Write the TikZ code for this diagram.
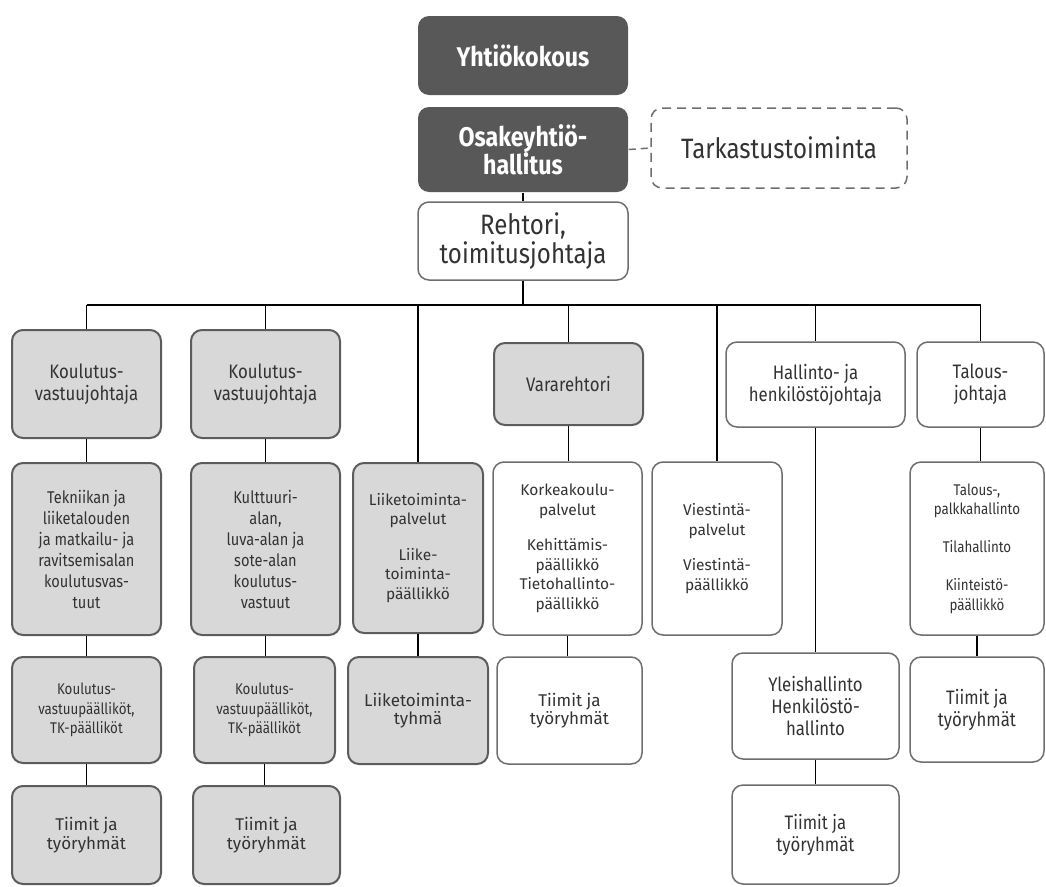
\documentclass[tikz,border=0pt]{standalone}
\usepackage{fontspec}
\setmainfont{Fira Sans}[FakeStretch=0.86]
\newfontfamily\widefont{Fira Sans}
\definecolor{darkfill}{HTML}{585858}
\definecolor{grayfill}{HTML}{D8D8D8}
\definecolor{grayline}{HTML}{5C5C5C}
\definecolor{whiteline}{HTML}{6E6E6E}
\definecolor{txt}{HTML}{333333}
\tikzset{
  box/.style={rounded corners=11pt, inner sep=0pt, align=center, text=txt, line width=1.5pt},
  darkbox/.style={box, fill=darkfill, text=white, font=\bfseries\fontsize{27pt}{28pt}\selectfont},
  graybox/.style={box, draw=grayline, fill=grayfill, line width=2pt},
  whitebox/.style={box, draw=whiteline, fill=white, line width=1.5pt},
  dashbox/.style={box, draw=whiteline, line width=1.5pt, dash pattern=on 9pt off 6pt},
  conn/.style={line width=1.7pt, black},
  fbig/.style={font=\fontsize{28pt}{29pt}\selectfont},
  fhead/.style={font=\fontsize{19.5pt}{22pt}\selectfont},
  fmid/.style={font=\fontsize{17pt}{21pt}\selectfont},
  fsmall/.style={font=\fontsize{15.5pt}{19.5pt}\selectfont},
  fwide/.style={font=\widefont\fontsize{15.5pt}{19.5pt}\selectfont},
  fwideb/.style={font=\widefont\fontsize{17pt}{18.5pt}\selectfont},
  sz/.style 2 args={minimum width=#1pt, minimum height=#2pt},
}
\begin{document}
\begin{tikzpicture}[x=1pt, y=-1pt]
\useasboundingbox (0,0) rectangle (1046,886);

% top of the organisation
\node[darkbox, sz={210}{79}] (yk) at (523,55.5) {Yhtiökokous};
\node[darkbox, sz={210}{85}] (oh) at (523,149.5) {Osakeyhtiö-\\hallitus};
\node[dashbox, fbig, sz={256}{80}] (tark) at (779,148) {Tarkastustoiminta};
\node[whitebox, fbig, sz={210}{78}] (rek) at (523,241) {Rehtori,\\toimitusjohtaja};

% first level under the rector
\node[graybox, fhead, sz={149}{108}] (k1) at (86.5,384) {Koulutus-\\vastuujohtaja};
\node[graybox, fhead, sz={149}{108}] (k2) at (265.5,384) {Koulutus-\\vastuujohtaja};
\node[graybox, fhead, sz={149}{82}] (vr) at (568.5,384) {Vararehtori};
\node[whitebox, fhead, sz={179}{85}] (hh) at (815.5,384.5) {Hallinto- ja\\henkilöstöjohtaja};
\node[whitebox, fhead, sz={127}{85}] (tj) at (980.5,384.5) {Talous-\\johtaja};

% second level
\node[graybox, fmid, sz={149}{172}] (t1) at (86.5,549) {Tekniikan ja\\liiketalouden\\ja matkailu- ja\\ravitsemisalan\\koulutusvas-\\tuut};
\node[graybox, fmid, sz={149}{172}] (t2) at (265.5,549) {Kulttuuri-\\alan,\\luva-alan ja\\sote-alan\\koulutus-\\vastuut};
\node[graybox, fwide, sz={130}{170}] (lp) at (418,548) {Liiketoiminta-\\palvelut\\[16pt]Liike-\\toiminta-\\päällikkö};
\node[whitebox, fwide, sz={149}{173}] (kp) at (567.5,548.5) {Korkeakoulu-\\palvelut\\[16pt]Kehittämis-\\päällikkö\\Tietohallinto-\\päällikkö};
\node[whitebox, fwide, sz={130}{173}] (vp) at (717,548.5) {Viestintä-\\palvelut\\[16pt]Viestintä-\\päällikkö};
\node[whitebox, fsmall, sz={134}{173}] (tp) at (977,548.5) {Talous-,\\palkkahallinto\\[18pt]Tilahallinto\\[19pt]Kiinteistö-\\päällikkö};

% third level
\node[graybox, fsmall, sz={149}{106}] (p1) at (86.5,710) {Koulutus-\\vastuupäälliköt,\\TK-päälliköt};
\node[graybox, fsmall, sz={141}{106}] (p2) at (264.5,710) {Koulutus-\\vastuupäälliköt,\\TK-päälliköt};
\node[graybox, fwideb, sz={140}{107}] (lt) at (418,710.5) {Liiketoiminta-\\tyhmä};
\node[whitebox, fwideb, sz={145}{107}] (kt) at (569.5,710.5) {Tiimit ja\\työryhmät};
\node[whitebox, fhead, sz={167}{106}] (yh) at (815.5,706) {Yleishallinto\\Henkilöstö-\\hallinto};
\node[whitebox, fhead, sz={134}{105}] (tt) at (977,709.5) {Tiimit ja\\työryhmät};

% fourth level
\node[graybox, fwideb, sz={149}{98}] (r1) at (86.5,835) {Tiimit ja\\työryhmät};
\node[graybox, fwideb, sz={147}{98}] (r2) at (266.5,835) {Tiimit ja\\työryhmät};
\node[whitebox, fhead, sz={167}{99}] (r6) at (815.5,834.5) {Tiimit ja\\työryhmät};

% connectors
\coordinate (bus) at (523,305);
\draw[conn] (oh.south) -- (rek.north);
\draw[conn, whiteline, line width=1.5pt, dash pattern=on 7pt off 5pt] (oh.east) -- (tark.west);
\draw[conn] (rek.south) -- (bus);
\draw[conn] (k1.north |- bus) -- (tj.north |- bus);
\foreach \n in {k1,k2,vr,hh,tj}
  \draw[conn] (\n.north |- bus) -- (\n.north);
\draw[conn] (lp.north |- bus) -- (lp.north);
\draw[conn] (vp.north |- bus) -- (vp.north);
\draw[conn] (k1.south) -- (t1.north);
\draw[conn] (t1.south) -- (p1.north);
\draw[conn] (p1.south) -- (r1.north);
\draw[conn] (k2.south) -- (t2.north);
\draw[conn] (t2.south) -- (t2.south |- p2.north);
\draw[conn] (p2.south) -- (p2.south |- r2.north);
\draw[conn] (lp.south) -- (lt.north);
\draw[conn] (vr.south) -- (vr.south |- kp.north);
\draw[conn] (kp.south) -- (kp.south |- kt.north);
\draw[conn] (hh.south) -- (yh.north);
\draw[conn] (yh.south) -- (r6.north);
\draw[conn] (tj.south) -- (tj.south |- tp.north);
\draw[conn] (tp.south) -- (tt.north);
\end{tikzpicture}
\end{document}
